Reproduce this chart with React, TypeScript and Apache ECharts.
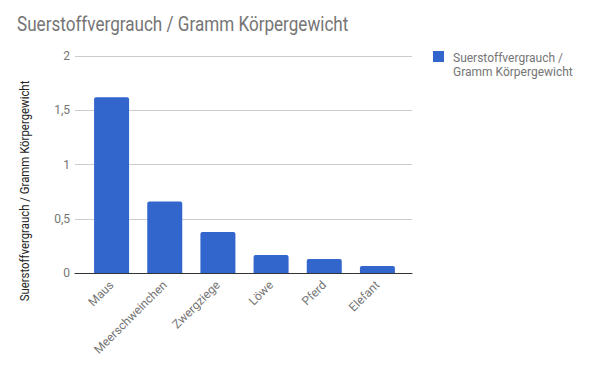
import React, { useEffect, useRef } from "react";
import * as echarts from "echarts";

const categories = ["Maus", "Meerschweinchen", "Zwergziege", "Löwe", "Pferd", "Elefant"];
const values = [1.62, 0.66, 0.377, 0.166, 0.13, 0.064];
const seriesName = "Suerstoffvergrauch / Gramm Körpergewicht";
const legendText = "Suerstoffvergrauch /\nGramm Körpergewicht";
const titleText = "Suerstoffvergrauch / Gramm Körpergewicht";
const yAxisTitle = "Suerstoffvergrauch / Gramm Körpergewicht";

export default function App() {
  const ref = useRef<HTMLDivElement>(null);
  useEffect(() => {
    if (!ref.current) return;
    const chart = echarts.init(ref.current, undefined, { renderer: "svg" });
    const font = "Roboto, Arial, sans-serif";
    chart.setOption({
      animation: false,
      backgroundColor: "#ffffff",
      legend: {
        orient: "vertical",
        left: 433,
        top: 51,
        padding: 0,
        itemWidth: 11,
        itemHeight: 28,
        icon: "path://M0,0H11V11H0Z M0,27.98H0.02V28H0Z",
        formatter: () => legendText,
        textStyle: { fontFamily: font, fontSize: 12, color: "#757575", lineHeight: 14, padding: [0, 0, 0, 4] },
        data: [seriesName],
      },
      grid: [
        { left: 85, right: 196, top: 56, bottom: 98, containLabel: false },
        { left: 75, right: 188, top: 56, bottom: 98, containLabel: false },
      ],
      xAxis: [
        {
          type: "category",
          gridIndex: 0,
          data: categories,
          axisLine: { show: false },
          axisTick: { show: false },
          axisLabel: {
            rotate: 45,
            margin: 10,
            fontFamily: font,
            fontSize: 12,
            color: "#757575",
            interval: 0,
          },
        },
        {
          type: "category",
          gridIndex: 1,
          data: categories,
          axisLine: { show: true, lineStyle: { color: "#333333", width: 1 } },
          axisTick: { show: false },
          axisLabel: { show: false },
        },
      ],
      yAxis: [
        {
          type: "value",
          gridIndex: 0,
          min: 0,
          max: 2,
          interval: 0.5,
          show: false,
          splitLine: { show: false },
        },
        {
          type: "value",
          gridIndex: 1,
          min: 0,
          max: 2,
          interval: 0.5,
          axisLine: { show: false },
          axisTick: { show: false },
          splitLine: { lineStyle: { color: "#cccccc", width: 1 } },
          axisLabel: {
            margin: 5,
            fontFamily: font,
            fontSize: 12,
            color: "#757575",
            formatter: (v: number) => String(v).replace(".", ","),
          },
        },
      ],
      graphic: [
        {
          type: "text",
          x: 17,
          y: 15,
          scaleX: 0.855,
          style: {
            text: titleText,
            align: "left",
            verticalAlign: "top",
            fontFamily: font,
            fontSize: 20,
            fill: "#757575",
          },
        },
        {
          type: "text",
          x: 25,
          y: 191,
          rotation: Math.PI / 2,
          scaleX: 0.95,
          style: {
            text: yAxisTitle,
            align: "center",
            verticalAlign: "middle",
            fontFamily: font,
            fontSize: 12,
            fill: "#222222",
          },
        },
      ],
      series: [
        {
          name: seriesName,
          type: "bar",
          xAxisIndex: 0,
          yAxisIndex: 0,
          data: values,
          barWidth: 35,
          itemStyle: { color: "#3366cc", borderRadius: [2, 2, 0, 0] },
        },
      ],
    });
    return () => chart.dispose();
  }, []);
  return <div ref={ref} style={{ width: 600, height: 371, position: "absolute", left: 0, top: 0 }} />;
}
